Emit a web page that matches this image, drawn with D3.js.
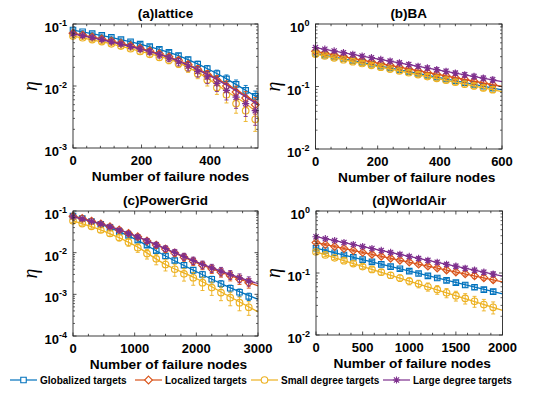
<!DOCTYPE html>
<html><head><meta charset="utf-8">
<script src="https://cdn.jsdelivr.net/npm/d3@7"></script>
<style>body{margin:0;background:#fff}svg{display:block}</style>
</head><body>
<script>
// ---------- series meta ----------
const seriesNames = ["Globalized targets","Localized targets","Small degree targets","Large degree targets"];
const seriesColors = ["#0072BD","#D95319","#EDB120","#7E2F8E"];
const seriesSymbols = ["square","diamond","circle","asterisk"];

// ---------- (a) lattice ----------
const aX = [0,28,56,84,112,140,168,196,224,252,280,308,336,364,392,420,448,476,504,532];
const aGlob  = [0.0800,0.0750,0.0701,0.0655,0.0608,0.0562,0.0518,0.0473,0.0431,0.0389,0.0348,0.0309,0.0266,0.0226,0.0191,0.0158,0.0130,0.0106,0.0085,0.0068];
const aLoc   = [0.0710,0.0662,0.0617,0.0573,0.0530,0.0488,0.0447,0.0406,0.0368,0.0331,0.0295,0.0260,0.0222,0.0186,0.0153,0.0125,0.0100,0.0080,0.0064,0.0050];
const aSmall = [0.0640,0.0600,0.0560,0.0520,0.0480,0.0440,0.0400,0.0360,0.0325,0.0290,0.0260,0.0228,0.0195,0.0158,0.0125,0.0095,0.0072,0.0052,0.0040,0.0029];
const aLarge = [0.0695,0.0648,0.0603,0.0560,0.0516,0.0474,0.0433,0.0393,0.0354,0.0317,0.0281,0.0246,0.0208,0.0172,0.0140,0.0110,0.0085,0.0066,0.0052,0.0040];
const aGlobErr  = [0.04,0.04,0.05,0.05,0.05,0.06,0.06,0.07,0.07,0.08,0.08,0.09,0.10,0.11,0.12,0.14,0.16,0.18,0.20,0.22];
const aLocErr   = [0.05,0.05,0.05,0.06,0.06,0.07,0.07,0.08,0.08,0.09,0.10,0.11,0.12,0.14,0.16,0.18,0.21,0.24,0.27,0.30];
const aSmallErr = [0.06,0.06,0.06,0.07,0.07,0.08,0.08,0.09,0.10,0.11,0.12,0.13,0.15,0.17,0.20,0.23,0.26,0.30,0.33,0.36];
const aLargeErr = [0.05,0.05,0.06,0.06,0.07,0.07,0.08,0.09,0.10,0.11,0.12,0.14,0.16,0.19,0.22,0.26,0.30,0.34,0.38,0.42];
const aLineX = [0,100,200,300,400,450,500,540];
const aGlobLine  = [0.0800,0.0628,0.0467,0.0320,0.0181,0.0129,0.0088,0.0065];
const aLocLine   = [0.0710,0.0547,0.0401,0.0270,0.0151,0.0106,0.0072,0.0052];
const aSmallLine = [0.0640,0.0495,0.0357,0.0247,0.0125,0.0081,0.0054,0.0036];
const aLargeLine = [0.0695,0.0532,0.0389,0.0262,0.0146,0.0102,0.0069,0.0050];
const aXTicks = [0,200,400];

// ---------- (b) BA ----------
const bX = [0,30,60,90,120,150,180,210,240,270,300,330,360,390,420,450,480,510,540,570];
const bGlob  = [0.340,0.318,0.297,0.278,0.259,0.243,0.227,0.212,0.198,0.185,0.173,0.162,0.151,0.141,0.132,0.123,0.115,0.108,0.101,0.094];
const bLoc   = [0.365,0.342,0.321,0.301,0.282,0.264,0.248,0.232,0.218,0.204,0.191,0.179,0.168,0.157,0.148,0.138,0.130,0.121,0.114,0.107];
const bSmall = [0.330,0.308,0.288,0.268,0.250,0.234,0.218,0.204,0.190,0.177,0.166,0.155,0.144,0.135,0.126,0.117,0.109,0.102,0.095,0.089];
const bLarge = [0.420,0.395,0.371,0.348,0.327,0.307,0.289,0.271,0.255,0.239,0.225,0.211,0.198,0.186,0.175,0.164,0.154,0.145,0.136,0.128];
const bGlobErr  = [0.05,0.05,0.05,0.05,0.05,0.05,0.06,0.06,0.06,0.06,0.06,0.06,0.07,0.07,0.07,0.07,0.08,0.08,0.08,0.08];
const bLocErr   = [0.05,0.05,0.05,0.05,0.06,0.06,0.06,0.06,0.06,0.07,0.07,0.07,0.07,0.08,0.08,0.08,0.08,0.09,0.09,0.09];
const bSmallErr = [0.06,0.06,0.06,0.06,0.06,0.07,0.07,0.07,0.07,0.08,0.08,0.08,0.08,0.09,0.09,0.09,0.10,0.10,0.10,0.10];
const bLargeErr = [0.05,0.05,0.05,0.06,0.06,0.06,0.06,0.06,0.07,0.07,0.07,0.07,0.08,0.08,0.08,0.08,0.09,0.09,0.09,0.10];
const bLineX = [0,600];
const bGlobLine  = [0.340,0.088];
const bLocLine   = [0.365,0.100];
const bSmallLine = [0.330,0.083];
const bLargeLine = [0.420,0.120];
const bXTicks = [0,200,400,600];

// ---------- (c) PowerGrid ----------
const cX = [0,150,300,450,600,750,900,1050,1200,1350,1500,1650,1800,1950,2100,2250,2400,2550,2700,2850];
const cGlob  = [0.076,0.066,0.056,0.048,0.040,0.032,0.026,0.020,0.0151,0.0112,0.0083,0.0065,0.0050,0.0038,0.0030,0.0023,0.0018,0.0014,0.00112,0.00089];
const cLoc   = [0.075,0.066,0.057,0.049,0.042,0.035,0.029,0.024,0.019,0.0152,0.0122,0.0098,0.0078,0.0062,0.0050,0.0041,0.0034,0.0028,0.0023,0.0019];
const cSmall = [0.058,0.050,0.043,0.035,0.029,0.023,0.0178,0.0132,0.0095,0.0071,0.0052,0.0040,0.0031,0.0025,0.0019,0.00145,0.0011,0.00083,0.00063,0.00049];
const cLarge = [0.0724,0.0646,0.0562,0.0490,0.0417,0.0347,0.0288,0.0240,0.0191,0.0155,0.0126,0.0102,0.0081,0.0065,0.0052,0.0043,0.0036,0.0030,0.0025,0.0021];
const cGlobErr  = [0.05,0.05,0.06,0.06,0.07,0.08,0.09,0.10,0.11,0.12,0.13,0.14,0.15,0.16,0.17,0.18,0.18,0.19,0.20,0.20];
const cLocErr   = [0.05,0.05,0.06,0.07,0.08,0.09,0.10,0.12,0.13,0.15,0.17,0.18,0.20,0.21,0.22,0.23,0.24,0.25,0.25,0.26];
const cSmallErr = [0.08,0.09,0.10,0.12,0.14,0.17,0.20,0.23,0.26,0.28,0.30,0.32,0.33,0.34,0.35,0.35,0.36,0.36,0.36,0.36];
const cLargeErr = [0.05,0.05,0.06,0.07,0.08,0.09,0.10,0.11,0.13,0.14,0.16,0.17,0.19,0.20,0.21,0.22,0.23,0.24,0.24,0.25];
const cLineX = [0,500,1000,1500,2000,2500,3000];
const cGlobLine  = [0.076,0.045,0.0215,0.0083,0.0035,0.00155,0.00076];
const cLocLine   = [0.075,0.047,0.0255,0.0122,0.0058,0.0030,0.0016];
const cSmallLine = [0.058,0.033,0.0150,0.0052,0.0024,0.00095,0.00038];
const cLargeLine = [0.0724,0.0468,0.0257,0.0126,0.0060,0.0032,0.0018];
const cXTicks = [0,1000,2000,3000];

// ---------- (d) WorldAir ----------
const dX = [0,100,200,300,400,500,600,700,800,900,1000,1100,1200,1300,1400,1500,1600,1700,1800,1900];
const dGlob  = [0.251,0.231,0.212,0.195,0.179,0.164,0.151,0.138,0.127,0.117,0.107,0.098,0.090,0.083,0.076,0.070,0.064,0.059,0.054,0.050];
const dLoc   = [0.309,0.287,0.267,0.249,0.231,0.215,0.200,0.186,0.173,0.161,0.150,0.139,0.129,0.120,0.112,0.104,0.097,0.090,0.084,0.078];
const dSmall = [0.219,0.196,0.176,0.158,0.142,0.127,0.114,0.103,0.092,0.083,0.074,0.067,0.060,0.054,0.048,0.043,0.039,0.035,0.031,0.028];
const dLarge = [0.385,0.358,0.333,0.310,0.288,0.267,0.248,0.231,0.215,0.200,0.185,0.172,0.160,0.149,0.138,0.129,0.119,0.111,0.103,0.096];
const dGlobErr  = [0.04,0.04,0.04,0.05,0.05,0.05,0.05,0.05,0.06,0.06,0.06,0.06,0.07,0.07,0.07,0.07,0.08,0.08,0.08,0.08];
const dLocErr   = [0.04,0.04,0.05,0.05,0.05,0.05,0.06,0.06,0.06,0.06,0.07,0.07,0.07,0.07,0.08,0.08,0.08,0.09,0.09,0.09];
const dSmallErr = [0.05,0.06,0.06,0.07,0.07,0.08,0.09,0.10,0.11,0.12,0.13,0.14,0.15,0.16,0.17,0.18,0.19,0.20,0.21,0.22];
const dLargeErr = [0.04,0.04,0.04,0.05,0.05,0.05,0.05,0.06,0.06,0.06,0.06,0.07,0.07,0.07,0.07,0.08,0.08,0.08,0.08,0.09];
const dLineX = [0,2000];
const dGlobLine  = [0.251,0.046];
const dLocLine   = [0.309,0.072];
const dSmallLine = [0.219,0.025];
const dLargeLine = [0.385,0.089];
const dXTicks = [0,500,1000,1500,2000];

const xLabelText = "Number of failure nodes";
const yLabelText = "η";

// ---------- layout ----------
const W = 554, H = 398;
const panels = [
  {title:"(a)lattice", box:[73,24,258,148], xlabShift:5, xDomain:[0,540], yDomain:[1e-3,1e-1], xTicks:aXTicks, xMinor:40,
   mx:aX, lx:aLineX, m:[aGlob,aLoc,aSmall,aLarge], e:[aGlobErr,aLocErr,aSmallErr,aLargeErr], l:[aGlobLine,aLocLine,aSmallLine,aLargeLine]},
  {title:"(b)BA", box:[315.5,24,502,149], xlabShift:8, xDomain:[0,600], yDomain:[1e-2,1], xTicks:bXTicks, xMinor:50,
   mx:bX, lx:bLineX, m:[bGlob,bLoc,bSmall,bLarge], e:[bGlobErr,bLocErr,bSmallErr,bLargeErr], l:[bGlobLine,bLocLine,bSmallLine,bLargeLine]},
  {title:"(c)PowerGrid", box:[73,211,258,336], xlabShift:3, xDomain:[0,3000], yDomain:[1e-4,1e-1], xTicks:cXTicks, xMinor:250,
   mx:cX, lx:cLineX, m:[cGlob,cLoc,cSmall,cLarge], e:[cGlobErr,cLocErr,cSmallErr,cLargeErr], l:[cGlobLine,cLocLine,cSmallLine,cLargeLine]},
  {title:"(d)WorldAir", box:[316,211,502.5,335], xlabShift:3, xDomain:[0,2000], yDomain:[1e-2,1], xTicks:dXTicks, xMinor:125,
   mx:dX, lx:dLineX, m:[dGlob,dLoc,dSmall,dLarge], e:[dGlobErr,dLocErr,dSmallErr,dLargeErr], l:[dGlobLine,dLocLine,dSmallLine,dLargeLine]}
];

const FONT = "'Liberation Sans', Arial, Helvetica, sans-serif";
const AXC = "#262626";

const svg = d3.select("body").append("svg").attr("width",W).attr("height",H)
  .style("font-family",FONT);

function symbolPath(type) {
  if (type==="square") return d3.symbol(d3.symbolSquare, 30)();
  if (type==="diamond") return "M0,-3.9L3.9,0L0,3.9L-3.9,0Z";
  if (type==="circle") return d3.symbol(d3.symbolCircle, 34)();
  return "M-3.6,0H3.6M0,-3.6V3.6M-2.6,-2.6L2.6,2.6M-2.6,2.6L2.6,-2.6";
}

panels.forEach(p => {
  const [x0,y0,x1,y1] = p.box;
  const x = d3.scaleLinear().domain(p.xDomain).range([x0,x1]);
  const y = d3.scaleLog().domain(p.yDomain).range([y1,y0]);
  const g = svg.append("g");

  seriesNames.forEach((name, si) => {
    const col = seriesColors[si];
    const sg = g.append("g");
    const vals = p.m[si], errs = p.e[si];
    p.mx.forEach((xv, i) => {
      const v = vals[i], er = errs[i];
      const px = x(xv), yt = y(v*(1+er)), yb = y(v*(1-er));
      sg.append("line").attr("x1",px).attr("x2",px).attr("y1",yt).attr("y2",yb)
        .attr("stroke",col).attr("stroke-width",0.9);
      [yt,yb].forEach(yy => sg.append("line").attr("x1",px-2).attr("x2",px+2).attr("y1",yy).attr("y2",yy)
        .attr("stroke",col).attr("stroke-width",0.9));
      sg.append("path").attr("d",symbolPath(seriesSymbols[si]))
        .attr("transform",`translate(${px},${y(v)})`)
        .attr("fill","none").attr("stroke",col).attr("stroke-width",1.15);
    });
    const line = d3.line().x(d=>x(d[0])).y(d=>y(d[1])).curve(d3.curveMonotoneX);
    sg.append("path").attr("d", line(p.lx.map((xv,i)=>[xv, p.l[si][i]])))
      .attr("fill","none").attr("stroke",col).attr("stroke-width",1.3);
  });

  g.append("rect").attr("x",x0).attr("y",y0).attr("width",x1-x0).attr("height",y1-y0)
    .attr("fill","none").attr("stroke",AXC).attr("stroke-width",0.9);

  const minorX = d3.range(p.xDomain[0], p.xDomain[1]+1e-9, p.xMinor);
  minorX.forEach(t => {
    const isMajor = p.xTicks.includes(t);
    const len = isMajor ? 3.5 : 2.2;
    const px = x(t);
    g.append("line").attr("x1",px).attr("x2",px).attr("y1",y1).attr("y2",y1-len).attr("stroke",AXC).attr("stroke-width",0.8);
    g.append("line").attr("x1",px).attr("x2",px).attr("y1",y0).attr("y2",y0+len).attr("stroke",AXC).attr("stroke-width",0.8);
  });
  p.xTicks.forEach(t => {
    g.append("text").attr("x",x(t)).attr("y",y1+17).attr("text-anchor","middle")
      .attr("font-size",13).attr("font-weight","bold").attr("fill","#000").text(t);
  });

  const e0 = Math.round(Math.log10(p.yDomain[0])), e1 = Math.round(Math.log10(p.yDomain[1]));
  for (let k=e0; k<=e1; k++) {
    const py = y(Math.pow(10,k));
    g.append("line").attr("x1",x0).attr("x2",x0+3.5).attr("y1",py).attr("y2",py).attr("stroke",AXC).attr("stroke-width",0.8);
    g.append("line").attr("x1",x1).attr("x2",x1-3.5).attr("y1",py).attr("y2",py).attr("stroke",AXC).attr("stroke-width",0.8);
    const t = g.append("text").attr("x",x0-6).attr("y",py+8).attr("text-anchor","end")
      .attr("font-weight","bold").attr("fill","#000");
    t.append("tspan").attr("font-size",13).text("10");
    t.append("tspan").attr("font-size",9).attr("dy",-6.5).text(k<0 ? "-"+(-k) : String(k));
    if (k<e1) {
      for (let m=2; m<=9; m++) {
        const pm = y(m*Math.pow(10,k));
        g.append("line").attr("x1",x0).attr("x2",x0+2).attr("y1",pm).attr("y2",pm).attr("stroke",AXC).attr("stroke-width",0.7);
        g.append("line").attr("x1",x1).attr("x2",x1-2).attr("y1",pm).attr("y2",pm).attr("stroke",AXC).attr("stroke-width",0.7);
      }
    }
  }

  g.append("text").attr("x",(x0+x1)/2).attr("y",y0-6).attr("text-anchor","middle")
    .attr("font-size",13.5).attr("font-weight","bold").attr("fill","#000").text(p.title);
  g.append("text").attr("x",(x0+x1)/2 + p.xlabShift).attr("y",y1+33).attr("text-anchor","middle")
    .attr("font-size",13.7).attr("font-weight","bold").attr("fill","#000").text(xLabelText);
  g.append("text").attr("transform",`translate(${x0-36},${(y0+y1)/2}) rotate(-90)`)
    .attr("text-anchor","middle").attr("font-family","'Liberation Serif','Times New Roman',serif")
    .attr("font-style","italic").attr("font-size",20).attr("fill","#000").text(yLabelText);
});

// ---------- legend ----------
const legStart = [10,135,251,383];
const ly = 380;
seriesNames.forEach((name, si) => {
  const col = seriesColors[si];
  const lx = legStart[si];
  const lg = svg.append("g");
  lg.append("line").attr("x1",lx).attr("x2",lx+27).attr("y1",ly).attr("y2",ly).attr("stroke",col).attr("stroke-width",1.2);
  lg.append("path").attr("d",symbolPath(seriesSymbols[si])).attr("transform",`translate(${lx+13.5},${ly})`)
    .attr("fill","#fff").attr("stroke",col).attr("stroke-width",1.1);
  lg.append("text").attr("x",lx+30).attr("y",ly+3.5).attr("font-size",10).attr("font-weight","bold")
    .attr("fill","#000").text(name);
});
</script>
</body></html>
